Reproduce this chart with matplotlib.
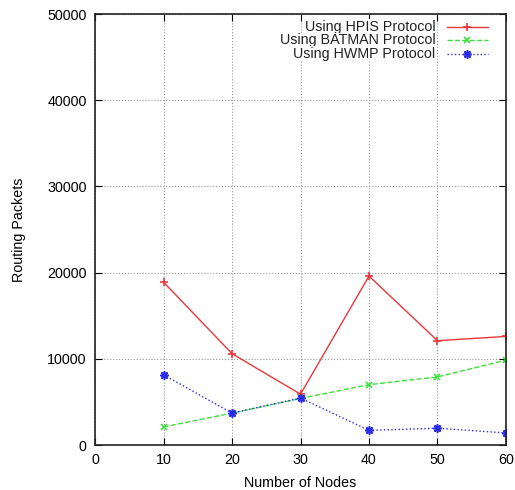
import matplotlib
matplotlib.use("Agg")
import matplotlib.pyplot as plt

plt.rcParams['font.family'] = ['Liberation Sans', 'DejaVu Sans']

nodes = [10, 20, 30, 40, 50, 60]
hpis = [18900, 10600, 5900, 19600, 12100, 12600]
batman = [2100, 3700, 5400, 7000, 7900, 9850]
hwmp = [8150, 3700, 5450, 1700, 1950, 1400]
labels = ["Using HPIS Protocol", "Using BATMAN Protocol", "Using HWMP Protocol"]
xticks = [0, 10, 20, 30, 40, 50, 60]
yticks = [0, 10000, 20000, 30000, 40000, 50000]

fig = plt.figure(figsize=(5.15, 4.9), dpi=100)
ax = fig.add_axes([0.1845, 0.0918, 0.798, 0.8796])

series = [
    (hpis, '#e8383b', '-', '+', 6),
    (batman, '#3ee03e', '--', 'x', 5),
    (hwmp, '#2a2ae8', ':', (8, 2, 0), 6),
]
for (vals, col, ls, mk, ms) in series:
    ax.plot(nodes, vals, color=col, linestyle=ls, marker=mk, markersize=ms,
            linewidth=1.0, markeredgewidth=1.2)

ax.set_xlim(0, 60)
ax.set_ylim(0, 50000)
ax.set_xticks(xticks)
ax.set_yticks(yticks)
ax.tick_params(direction='in', top=True, right=True, labelsize=10.3, length=5, pad=6)
ax.grid(True, color='#999999', linestyle=':', linewidth=0.8)
for s in ax.spines.values():
    s.set_linewidth(1.2)
    s.set_color('#222222')

ax.set_xlabel("Number of Nodes", fontsize=10.3, labelpad=6)
ax.set_ylabel("Routing Packets", fontsize=10.3, labelpad=15)

# gnuplot-style legend: right aligned text, sample on right
rows = [0.9705, 0.939, 0.908]
for (vals, col, ls, mk, ms), lab, yy in zip(series, labels, rows):
    ax.text(0.828, yy, lab, transform=ax.transAxes, ha='right', va='center',
            fontsize=10.3, color='#222222',
            bbox=dict(facecolor='white', edgecolor='none', pad=0.5))
    ax.plot([0.856, 0.956], [yy, yy], transform=ax.transAxes, color=col,
            linestyle=ls, linewidth=1.0)
    ax.plot([0.906], [yy], transform=ax.transAxes, color=col, marker=mk,
            markersize=ms, markeredgewidth=1.2)

fig.savefig("out.png", dpi=100)
